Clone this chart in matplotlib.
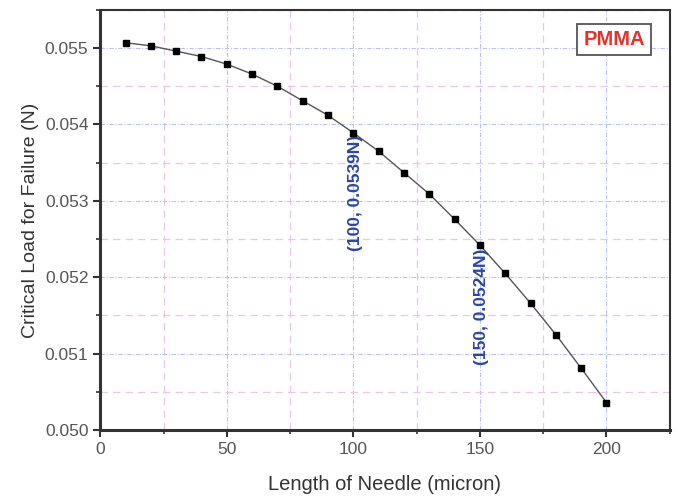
import matplotlib
matplotlib.use('Agg')
import matplotlib.pyplot as plt
from matplotlib.ticker import MultipleLocator

plt.rcParams['font.family'] = ['Liberation Sans', 'DejaVu Sans']

# data
length = [10, 20, 30, 40, 50, 60, 70, 80, 90, 100,
          110, 120, 130, 140, 150, 160, 170, 180, 190, 200]
load = [0.05507, 0.05503, 0.05496, 0.05489, 0.05479, 0.05466, 0.05450,
        0.05431, 0.05412, 0.05389, 0.05365, 0.05337, 0.05309, 0.05276,
        0.05242, 0.05205, 0.05166, 0.05125, 0.05081, 0.05036]
notes = [(100, 0.0539, '(100, 0.0539N)'), (150, 0.0524, '(150, 0.0524N)')]

fig = plt.figure(figsize=(6.82, 4.96), dpi=100)
ax = fig.add_axes([0.147, 0.133, 0.835, 0.847])

ax.plot(length, load, '-', color='#555555', lw=1.0, zorder=3)
ax.plot(length, load, 's', color='black', ms=5, zorder=4)

ax.set_xlim(0, 225)
ax.set_ylim(0.050, 0.0555)
ax.xaxis.set_major_locator(MultipleLocator(50))
ax.xaxis.set_minor_locator(MultipleLocator(25))
ax.yaxis.set_major_locator(MultipleLocator(0.001))
ax.yaxis.set_minor_locator(MultipleLocator(0.0005))
ax.set_xticks([0, 50, 100, 150, 200])

# major grid: light blue dash-dot, minor grid: light pink dashed
ax.grid(which='major', color='#bcc2f0', ls=(0, (4, 1.5, 1, 1.5)), lw=0.8)
ax.grid(which='minor', color='#ecc6e8', ls=(0, (6, 4)), lw=0.9)
ax.set_axisbelow(True)

ax.tick_params(which='major', direction='out', length=5, width=1.5,
               labelsize=12.5, colors='#333333')
ax.tick_params(which='minor', direction='out', length=3, width=1.2, colors='#333333')
ax.tick_params(axis='both', labelcolor='#555555')
for s in ['left', 'bottom']:
    ax.spines[s].set_linewidth(2.2)
    ax.spines[s].set_color('#333333')
for s in ['top', 'right']:
    ax.spines[s].set_linewidth(1.5)
    ax.spines[s].set_color('#333333')

ax.set_xlabel('Length of Needle (micron)', fontsize=14.5, color='#333333', labelpad=13)
ax.set_ylabel('Critical Load for Failure (N)', fontsize=14, color='#333333', labelpad=4)

ax.text(100.8, notes[0][1] - 0.00003, notes[0][2], rotation=90, ha='center', va='top',
        color='#2a45a8', fontsize=12.5, fontweight='bold')
ax.text(150.7, notes[1][1] - 0.00003, notes[1][2], rotation=90, ha='center', va='top',
        color='#2a45a8', fontsize=12.5, fontweight='bold')

ax.text(0.902, 0.929, 'PMMA', transform=ax.transAxes, ha='center', va='center',
        color='#e8302a', fontsize=14.5, fontweight='bold',
        bbox=dict(boxstyle='square,pad=0.3', fc='white', ec='#555555', lw=1.3))

fig.savefig('out.png', dpi=100)
